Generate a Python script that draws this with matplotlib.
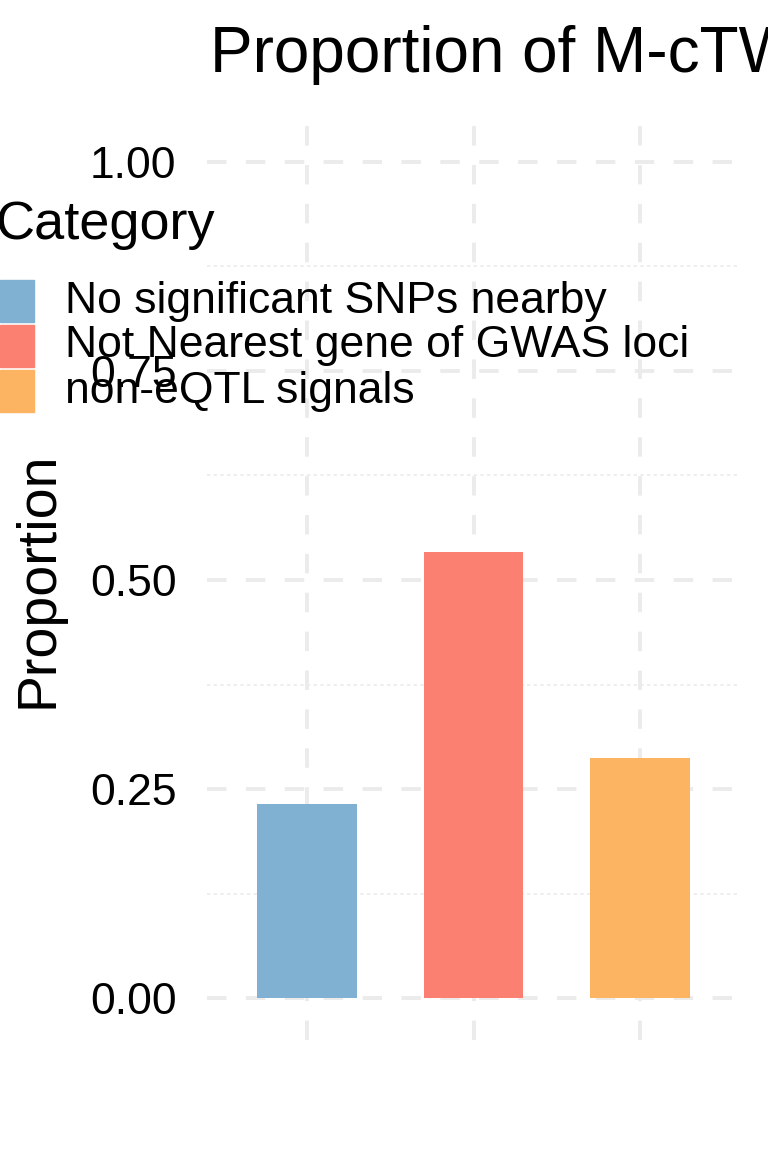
import matplotlib
matplotlib.use("Agg")
import matplotlib.pyplot as plt
from matplotlib.patches import Rectangle

plt.rcParams["font.family"] = ["Liberation Sans", "DejaVu Sans"]

categories = ["No significant SNPs nearby", "Not Nearest gene of GWAS loci", "non-eQTL signals"]
proportions = [0.232, 0.533, 0.287]
colors = ["#80B1D3", "#FB8072", "#FDB462"]
yticks = [0.00, 0.25, 0.50, 0.75, 1.00]

W, H = 768, 1152
fig = plt.figure(figsize=(W / 100, H / 100), dpi=100)
ax = fig.add_axes([207 / W, (H - 1040) / H, (740 - 207) / W, (1040 - 120) / H])

x = list(range(1, len(categories) + 1))
ax.bar(x, proportions, width=0.6, color=colors, zorder=3)

ax.set_xlim(0.4, 3.6)
ax.set_ylim(-0.05, 1.05)
ax.set_yticks(yticks)
ax.set_yticklabels([f"{v:.2f}" for v in yticks], fontsize=32)
ax.set_xticks(x)
ax.set_xticklabels([])
for v in [0.125, 0.375, 0.625, 0.875]:
    ax.axhline(v, color="#EBEBEB", lw=1.2, ls=(0, (2, 2)), zorder=1)
for v in yticks:
    ax.axhline(v, color="#EBEBEB", lw=2.8, ls=(0, (5, 5)), zorder=1)
for v in x:
    ax.axvline(v, color="#EBEBEB", lw=2.8, ls=(0, (5, 5)), zorder=1)
ax.tick_params(length=0, pad=22)
for s in ax.spines.values():
    s.set_visible(False)
ax.set_ylabel("Proportion", fontsize=40, labelpad=18)

fig.text(210 / W, 1 - 55 / H, "Proportion of M-cTWAS genes", fontsize=46,
         va="center", ha="left")

# legend (ggplot style, partly off the figure)
fig.text(-5 / W, 1 - 225 / H, "Category", fontsize=39, va="center", ha="left")
for i, (lab, c) in enumerate(zip(categories, colors)):
    top = 280 + i * 45
    fig.patches.append(Rectangle((0, 1 - (top + 42) / H), 34 / W, 42 / H,
                                 transform=fig.transFigure, color=c))
    fig.text(65 / W, 1 - (top + 21) / H, lab, fontsize=32, va="center", ha="left")

fig.savefig("out.png", dpi=100)
